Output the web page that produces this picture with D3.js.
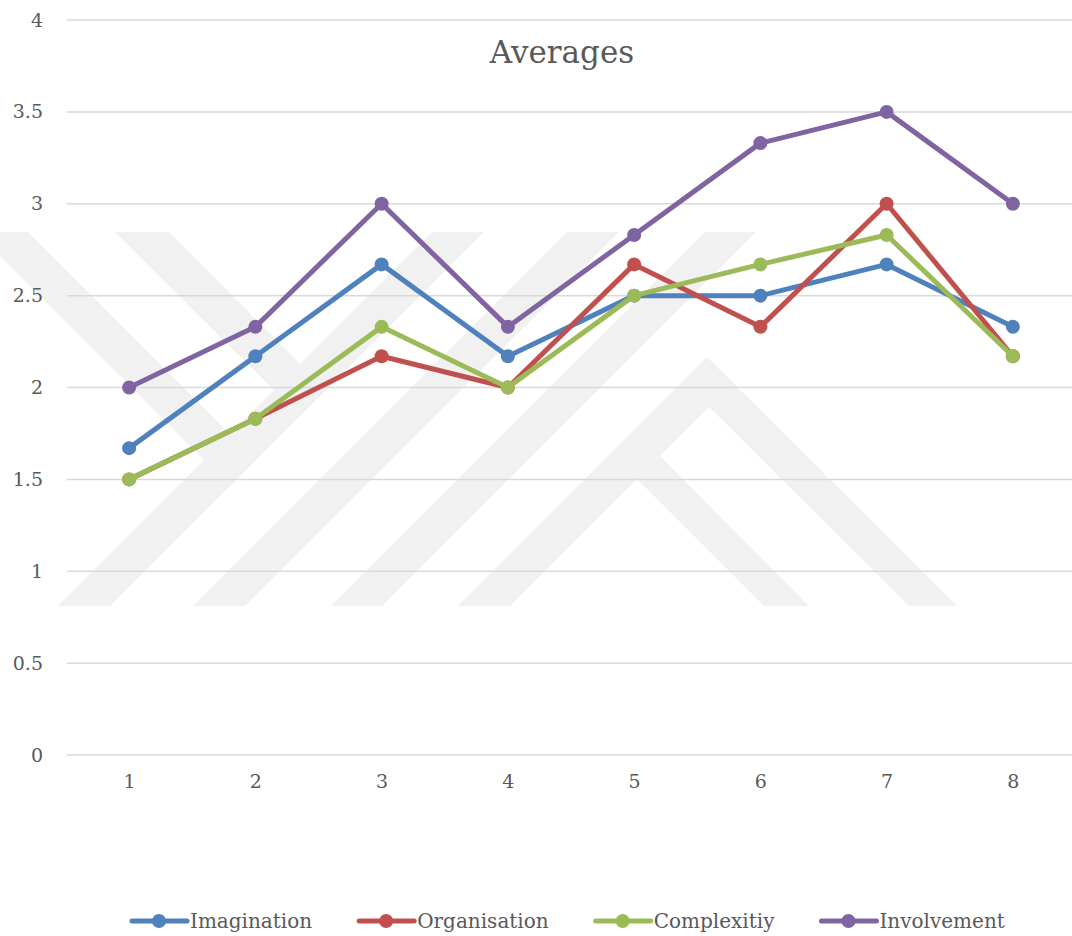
<!DOCTYPE html>
<html>
<head>
<meta charset="utf-8">
<script src="https://cdn.jsdelivr.net/npm/d3@7"></script>
<style>
  body { margin: 0; background: #fff; }
  svg { display: block; }
</style>
</head>
<body>
<svg id="chart"></svg>
<script>
const categories = ["1", "2", "3", "4", "5", "6", "7", "8"];
const seriesNames = ["Imagination", "Organisation", "Complexitiy", "Involvement"];
const imagination = [1.67, 2.17, 2.67, 2.17, 2.5, 2.5, 2.67, 2.33];
const organisation = [1.5, 1.83, 2.17, 2.0, 2.67, 2.33, 3.0, 2.17];
const complexitiy = [1.5, 1.83, 2.33, 2.0, 2.5, 2.67, 2.83, 2.17];
const involvement = [2.0, 2.33, 3.0, 2.33, 2.83, 3.33, 3.5, 3.0];
const yTicks = [0, 0.5, 1, 1.5, 2, 2.5, 3, 3.5, 4];
const colors = ["#4f81bd", "#c0504d", "#9bbb59", "#8064a2"];

const series = [imagination, organisation, complexitiy, involvement].map((values, i) => ({
  name: seriesNames[i],
  color: colors[i],
  values: values.map((v, j) => ({ cat: categories[j], v }))
}));

const width = 1072, height = 936;
const font = "'DejaVu Serif', serif";
const textColor = "#595959";

const svg = d3.select("#chart").attr("width", width).attr("height", height);

// faint background watermark (drawn under everything)
const wm = [
  [[58, 606], [110, 606], [484, 232], [432, 232]],
  [[193, 606], [245, 606], [619, 232], [567, 232]],
  [[331, 606], [382, 606], [756, 232], [705, 232]],
  [[-24, 232], [28, 232], [256, 460], [230, 486]],
  [[115, 232], [169, 232], [326, 390], [300, 416]],
  [[458, 606], [707, 357], [957, 606], [909, 606], [709, 407], [510, 606]],
  [[637, 479], [660, 456], [809, 606], [764, 606]]
];
svg.append("g").selectAll("polygon").data(wm).join("polygon")
  .attr("points", d => d.map(p => p.join(",")).join(" "))
  .attr("fill", "#f1f1f1");

const x = d3.scalePoint().domain(categories).range([66, 1076]).padding(0.5);
const y = d3.scaleLinear().domain([0, 4]).range([755, 20]);

// gridlines
svg.append("g").selectAll("line").data(yTicks).join("line")
  .attr("x1", 67).attr("x2", width)
  .attr("y1", d => y(d)).attr("y2", d => y(d))
  .attr("stroke", "#d9d9d9").attr("stroke-width", 1.5);

// y axis labels
const yAxis = svg.append("g")
  .attr("transform", "translate(43,0)")
  .call(d3.axisLeft(y).tickValues(yTicks).tickSize(0).tickPadding(0).tickFormat(d3.format("")));
yAxis.select(".domain").remove();
yAxis.selectAll("text")
  .attr("font-family", font).attr("font-size", 19).attr("fill", textColor);

// x axis labels
const xAxis = svg.append("g")
  .attr("transform", "translate(0,755)")
  .call(d3.axisBottom(x).tickSize(0).tickPadding(20));
xAxis.select(".domain").remove();
xAxis.selectAll("text")
  .attr("font-family", font).attr("font-size", 19).attr("fill", textColor);

// title
svg.append("text")
  .attr("x", 562).attr("y", 63)
  .attr("text-anchor", "middle")
  .attr("font-family", font).attr("font-size", 31)
  .attr("fill", textColor)
  .text("Averages");

const line = d3.line().x(d => x(d.cat)).y(d => y(d.v));

const g = svg.append("g").selectAll("g").data(series).join("g");
g.append("path")
  .attr("d", d => line(d.values))
  .attr("fill", "none")
  .attr("stroke", d => d.color)
  .attr("stroke-width", 5)
  .attr("stroke-linejoin", "round");
g.selectAll("circle").data(d => d.values.map(p => ({ ...p, color: d.color }))).join("circle")
  .attr("cx", d => x(d.cat)).attr("cy", d => y(d.v))
  .attr("r", 7)
  .attr("fill", d => d.color);

// legend
const legend = svg.append("g");
let lx = 132;
series.forEach(s => {
  const item = legend.append("g").attr("transform", `translate(${lx},921)`);
  item.append("line").attr("x1", 0).attr("x2", 55)
    .attr("stroke", s.color).attr("stroke-width", 5).attr("stroke-linecap", "round");
  item.append("circle").attr("cx", 27).attr("r", 7).attr("fill", s.color);
  const t = item.append("text").attr("x", 58).attr("y", 7)
    .attr("font-family", font).attr("font-size", 20).attr("fill", textColor)
    .text(s.name);
  lx += 58 + t.node().getComputedTextLength() + 47;
});
</script>
</body>
</html>
